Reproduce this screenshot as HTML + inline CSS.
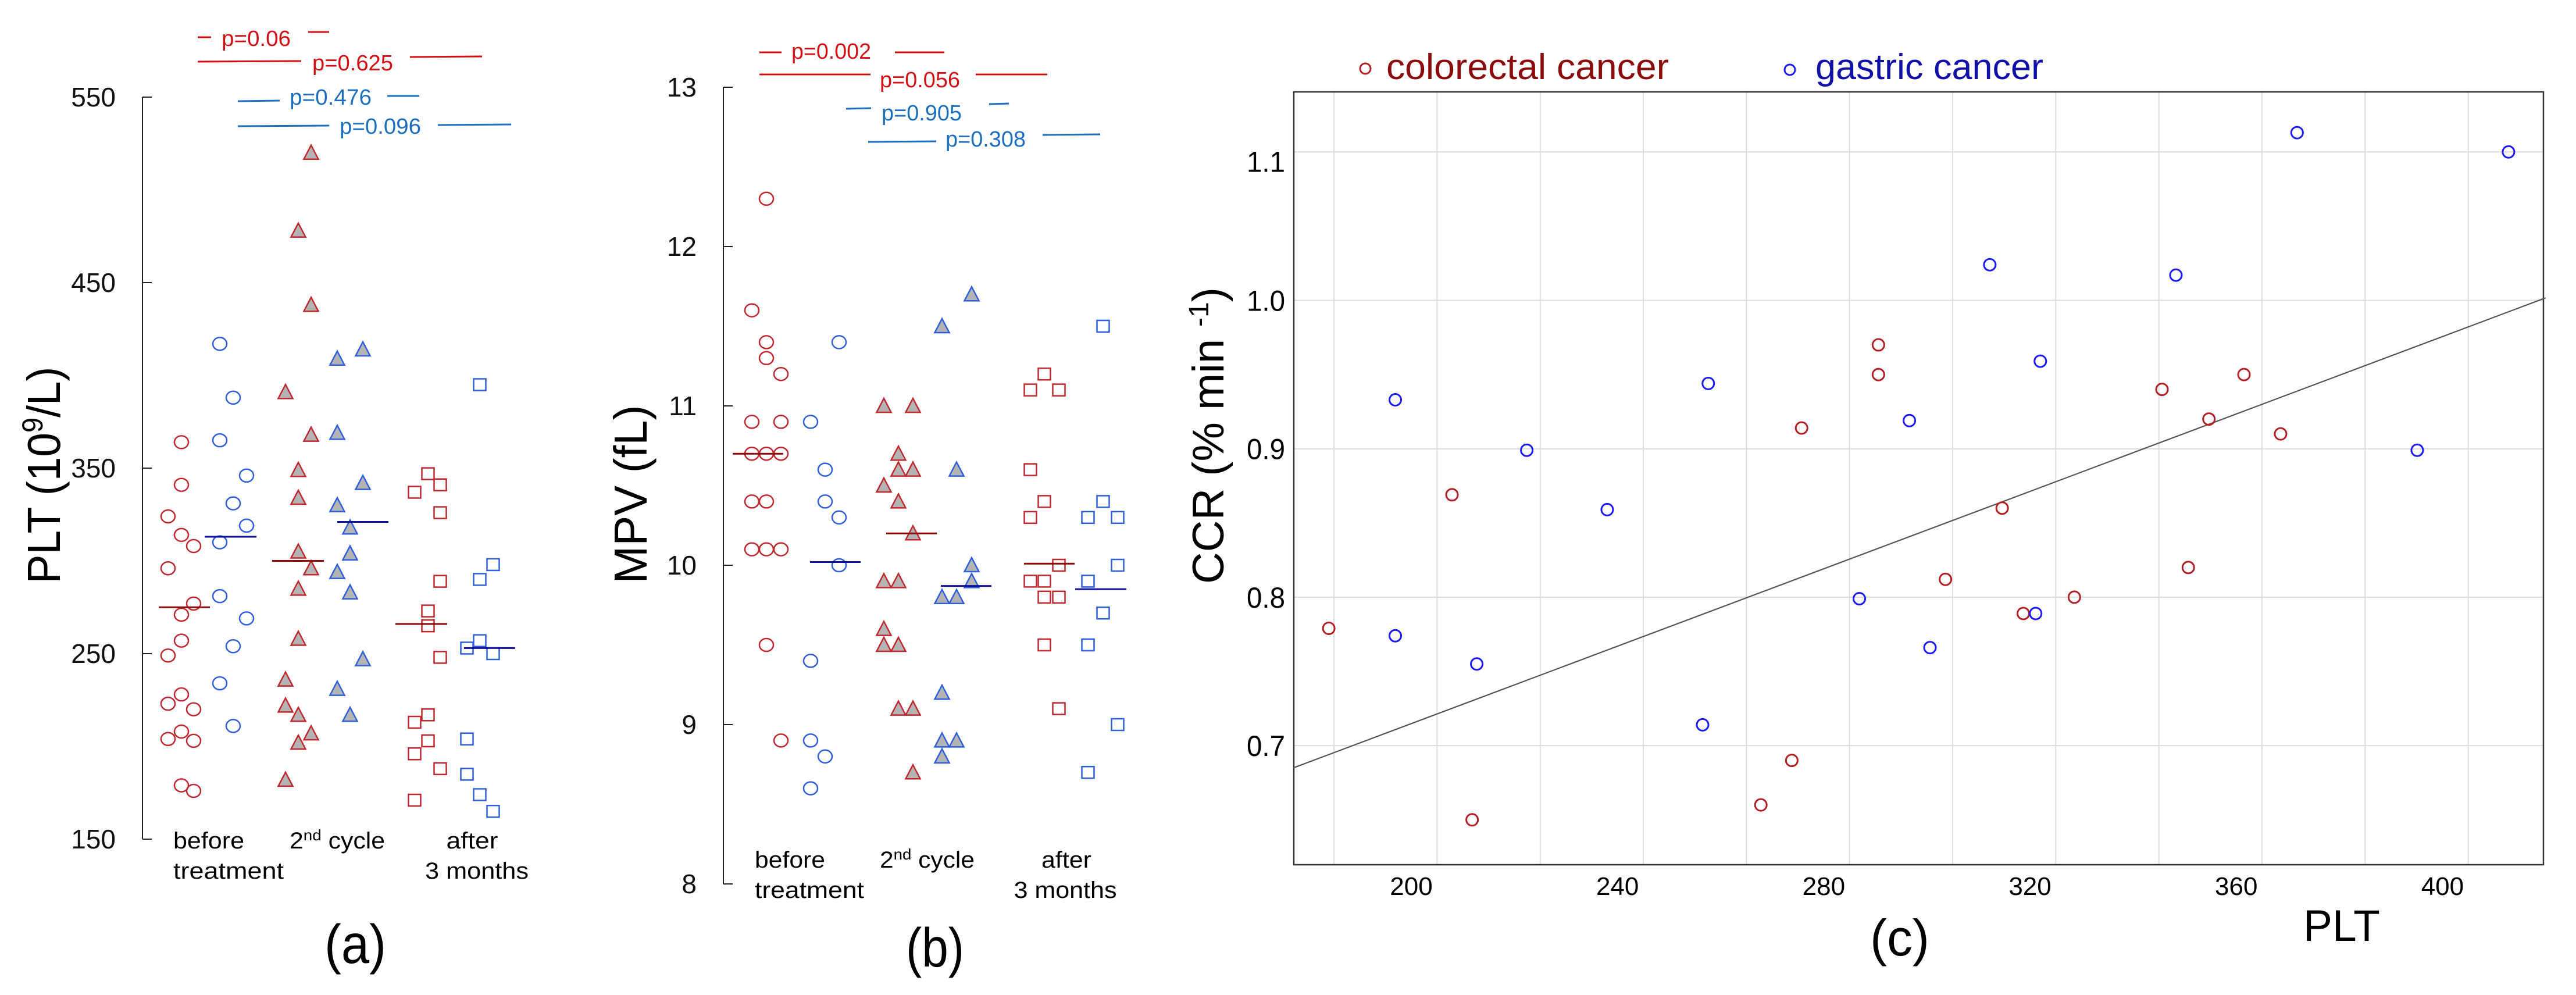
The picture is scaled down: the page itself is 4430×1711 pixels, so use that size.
<!DOCTYPE html>
<html><head><meta charset="utf-8"><style>
html,body{margin:0;padding:0;background:#fff;}
svg{display:block;font-family:"Liberation Sans",Arial,sans-serif;}
</style></head><body>
<svg id="fig" width="4430" height="1711" viewBox="0 0 4430 1711" xmlns="http://www.w3.org/2000/svg">
<g id="pa"></g>
<g id="pb"></g>
<g id="pc"></g>
</svg>
<script>
// ---------- Panel (a) PLT data ----------
const aTicks = [150, 250, 350, 450, 550];
const aRedCircle = [[324,296,249,223,204],[364,341,314,271,257,228,208,179],[308,277,220,203,176]];
const aBlueCircle = [[417,365,310,281,234],[388,331,254,211],[346,319,269]];
const aRedTri = [[391,236,222,182],[478,349,334,305,285,258,217,202],[520,438,368,296,207]];
const aBlueTri = [[409,369,330,294,231],[318,304,283,217],[414,342,247]];
const aRedSq = [[337,213,196,171],[347,273,265,217,203],[341,326,289,248,188]];
const aBlueSq = [[253,204,185],[395,290,257,174],[298,250,165]];
const aMedians = [275, 313, 300, 321, 266, 253];
// ---------- Panel (b) MPV data ----------
const bTicks = [8, 9, 10, 11, 12, 13];
const bRedCircle = [[11.6,10.9,10.7,10.4,10.1],[12.3,11.4,11.3,10.7,10.4,10.1,9.5],[11.2,10.9,10.7,10.1,8.9]];
const bBlueCircle = [[10.9,9.4,8.9,8.6],[10.6,10.4,8.8],[11.4,10.3,10.0]];
const bRedTri = [[11.0,10.5,9.9,9.6,9.5],[10.7,10.6,10.4,9.9,9.5,9.1],[11.0,10.6,10.2,9.1,8.7]];
const bBlueTri = [[11.5,9.8,9.2,8.9,8.8],[10.6,9.8,8.9],[11.7,10.0,9.9]];
const bRedSq = [[11.1,10.6,10.3,9.9],[11.2,10.4,9.9,9.8,9.5],[11.1,10.0,9.8,9.1]];
const bBlueSq = [[10.3,9.9,9.5,8.7],[11.5,10.4,9.7],[10.3,10.0,9.0]];
const bMedians = [10.7, 10.02, 10.2, 9.87, 10.01, 9.85];
// ---------- Panel (c) CCR vs PLT ----------
const cXTicks = [200, 240, 280, 320, 360, 400];
const cYTicks = [0.7, 0.8, 0.9, 1.0, 1.1];
const cGridX = [185, 205, 225, 245, 265, 285, 305, 325, 345, 365, 385, 405];
const cRedX = [184,207.9,211.8,267.8,273.8,275.7,290.6,290.6,303.6,314.6,318.7,328.6,345.6,350.7,354.7,361.5,368.6];
const cRedY = [0.779,0.869,0.650,0.660,0.690,0.914,0.970,0.950,0.812,0.860,0.789,0.800,0.940,0.820,0.920,0.950,0.910];
const cBlueX = [196.9,196.9,212.7,222.4,238.0,256.5,257.6,286.9,296.6,300.6,312.2,321.1,322.0,348.3,371.8,395.1,412.8];
const cBlueY = [0.933,0.774,0.755,0.899,0.859,0.714,0.944,0.799,0.919,0.766,1.024,0.789,0.959,1.017,1.113,0.899,1.100];
const cFit = [0.454, 0.001304];

const NS = "http://www.w3.org/2000/svg";
function mk(parent, tag, attrs, text) {
  const e = document.createElementNS(NS, tag);
  for (const k in attrs) e.setAttribute(k, attrs[k]);
  if (text !== undefined) e.textContent = text;
  parent.appendChild(e);
  return e;
}
const RED = "#c0282e", BLUE = "#2f5fdc", GREY = "#b4b4b4";

function drawMarker(g, shape, x, y, col, name) {
  let el;
  if (shape === "circle") {
    el = mk(g, "ellipse", {cx:x, cy:y, rx:12, ry:11, fill:"none", stroke:col, "stroke-width":2.5});
  } else if (shape === "tri") {
    el = mk(g, "polygon", {points:`${x},${y-13} ${x-12.5},${y+11} ${x+12.5},${y+11}`, fill:GREY, stroke:col, "stroke-width":2.5});
  } else {
    el = mk(g, "rect", {x:x-10.5, y:y-10, width:21, height:20, fill:"none", stroke:col, "stroke-width":2.5});
  }
  
  
}

function drawStrip(g, cfg) {
  const ys = cfg.y;
  // axis
  let ax = mk(g, "line", {x1:cfg.axX, y1:ys(cfg.ticks[cfg.ticks.length-1]), x2:cfg.axX, y2:ys(cfg.ticks[0]), stroke:"#222", "stroke-width":2});
  
  
  cfg.ticks.forEach(t => {
    const tk = mk(g, "line", {x1:cfg.axX, y1:ys(t), x2:cfg.axX+16, y2:ys(t), stroke:"#222", "stroke-width":2});
    
    
    const lb = mk(g, "text", {x:cfg.labX, y:ys(t)+16, "text-anchor":"end", "font-size":46, fill:"#111"}, String(t));
    
    
  });
  const series = [
    [cfg.d[0], "circle", RED, 0, "red-circle"], [cfg.d[1], "circle", BLUE, 1, "blue-circle"],
    [cfg.d[2], "tri", RED, 2, "red-triangle"], [cfg.d[3], "tri", BLUE, 3, "blue-triangle"],
    [cfg.d[4], "sq", RED, 4, "red-square"], [cfg.d[5], "sq", BLUE, 5, "blue-square"]];
  series.forEach(([data, shape, col, gi, nm]) => {
    data.forEach((colVals, ci) => {
      colVals.forEach(v => drawMarker(g, shape, cfg.colX[gi][ci], ys(v), col, nm + "-point"));
    });
  });
  cfg.medians.forEach((m, i) => {
    const l = mk(g, "line", {x1:cfg.medX[i][0], y1:ys(m), x2:cfg.medX[i][1], y2:ys(m), stroke: i%2 ? "#10109a" : "#8b0a0a", "stroke-width":3});
    
    
  });
}

// ---- Panel a
const ga = document.getElementById("pa");
drawStrip(ga, {
  y: v => 1443 - (v - 150) * 3.19, axX: 245, labX: 199, ticks: aTicks,
  d: [aRedCircle, aBlueCircle, aRedTri, aBlueTri, aRedSq, aBlueSq],
  colX: [[289,312,333],[378,401,424],[491,513,535],[580,602,624],[713,736,757],[803,825,848]],
  medians: aMedians,
  medX: [[273,361],[352,441],[468,557],[580,668],[680,769],[798,886]]
});
// ---- Panel b
const gb = document.getElementById("pb");
drawStrip(gb, {
  y: v => 1520 - (v - 8) * 274, axX: 1244, labX: 1198, ticks: bTicks,
  d: [bRedCircle, bBlueCircle, bRedTri, bBlueTri, bRedSq, bBlueSq],
  colX: [[1293,1318,1343],[1394,1419,1443],[1520,1545,1570],[1620,1645,1671],[1772,1796,1821],[1871,1897,1922]],
  medians: bMedians,
  medX: [[1260,1347],[1393,1480],[1524,1611],[1618,1705],[1761,1848],[1849,1937]]
});

// p-value annotations
function pAnn(g, col, l1, t, l2) {
  let a = mk(g, "line", {x1:l1[0], y1:l1[2], x2:l1[1], y2:l1[3], stroke:col, "stroke-width":3});
  
  
  let b = mk(g, "line", {x1:l2[0], y1:l2[2], x2:l2[1], y2:l2[3], stroke:col, "stroke-width":3});
  
  
  let tx = mk(g, "text", {x:t[0], y:t[2], "font-size":38, fill:col, textLength:t[1]-t[0], lengthAdjust:"spacingAndGlyphs"}, t[3]);
  
  
}
const PR = "#d40f14", PB = "#1c6fbf";
pAnn(ga, PR, [340,363,64,64], [381,500,79,"p=0.06"], [530,566,55,55]);
pAnn(ga, PR, [340,518,106,105], [537,676,121,"p=0.625"], [705,829,98,97]);
pAnn(ga, PB, [409,481,174,173], [498,639,180,"p=0.476"], [666,721,165,165]);
pAnn(ga, PB, [409,566,217,216], [584,724,230,"p=0.096"], [753,879,215,214]);
pAnn(gb, PR, [1306,1344,90,90], [1361,1498,101,"p=0.002"], [1539,1624,90,90]);
pAnn(gb, PR, [1306,1497,128,128], [1513,1651,150,"p=0.056"], [1678,1801,128,128]);
pAnn(gb, PB, [1455,1498,187,186], [1516,1654,207,"p=0.905"], [1701,1735,179,178]);
pAnn(gb, PB, [1493,1610,244,243], [1626,1764,252,"p=0.308"], [1793,1892,232,231]);

function txt(g, attrs, content, name) {
  const t = mk(g, "text", attrs);
  t.innerHTML = content;
  
  
  return t;
}
// category labels a
txt(ga, {x:298, y:1459, "font-size":40, textLength:122, lengthAdjust:"spacingAndGlyphs"}, "before", "category-label-before");
txt(ga, {x:298, y:1511, "font-size":40, textLength:190, lengthAdjust:"spacingAndGlyphs"}, "treatment", "category-label-before");
txt(ga, {x:498, y:1459, "font-size":40, textLength:164, lengthAdjust:"spacingAndGlyphs"}, '2<tspan font-size="26" dy="-14">nd</tspan><tspan dy="14"> cycle</tspan>', "category-label-2nd-cycle");
txt(ga, {x:812, y:1459, "font-size":40, "text-anchor":"middle", textLength:89, lengthAdjust:"spacingAndGlyphs"}, "after", "category-label-after");
txt(ga, {x:820, y:1511, "font-size":40, "text-anchor":"middle", textLength:178, lengthAdjust:"spacingAndGlyphs"}, "3 months", "category-label-after");
txt(ga, {x:103, y:817, "font-size":80, "text-anchor":"middle", transform:"rotate(-90 103 817)", textLength:373, lengthAdjust:"spacingAndGlyphs"}, 'PLT (10<tspan font-size="50" dy="-30">9</tspan><tspan dy="30">/L)</tspan>', "y-axis-title");
txt(ga, {x:611, y:1656, "font-size":95, "text-anchor":"middle", textLength:106, lengthAdjust:"spacingAndGlyphs"}, "(a)", "panel-label-a");
// category labels b
txt(gb, {x:1298, y:1492, "font-size":40, textLength:121, lengthAdjust:"spacingAndGlyphs"}, "before", "category-label-before");
txt(gb, {x:1298, y:1544, "font-size":40, textLength:188, lengthAdjust:"spacingAndGlyphs"}, "treatment", "category-label-before");
txt(gb, {x:1513, y:1492, "font-size":40, textLength:163, lengthAdjust:"spacingAndGlyphs"}, '2<tspan font-size="26" dy="-14">nd</tspan><tspan dy="14"> cycle</tspan>', "category-label-2nd-cycle");
txt(gb, {x:1834, y:1492, "font-size":40, "text-anchor":"middle", textLength:86, lengthAdjust:"spacingAndGlyphs"}, "after", "category-label-after");
txt(gb, {x:1832, y:1544, "font-size":40, "text-anchor":"middle", textLength:177, lengthAdjust:"spacingAndGlyphs"}, "3 months", "category-label-after");
txt(gb, {x:1112, y:850, "font-size":80, "text-anchor":"middle", transform:"rotate(-90 1112 850)", textLength:307, lengthAdjust:"spacingAndGlyphs"}, "MPV  (fL)", "y-axis-title");
txt(gb, {x:1608, y:1662, "font-size":95, "text-anchor":"middle", textLength:100, lengthAdjust:"spacingAndGlyphs"}, "(b)", "panel-label-b");

// ---- Panel c
const gc = document.getElementById("pc");
const cx = v => 2427 + (v - 200) * 8.867;
const cy = v => 516.5 + (1 - v) * 2552;
const L = 2225, R = 4374, T = 158, B = 1487;
cGridX.forEach(v => {
  const l = mk(gc, "line", {x1:cx(v), y1:T, x2:cx(v), y2:B, stroke:"#dcdcdc", "stroke-width":2});
  
  
});
cYTicks.forEach(v => {
  const l = mk(gc, "line", {x1:L, y1:cy(v), x2:R, y2:cy(v), stroke:"#dcdcdc", "stroke-width":2});
  
  
  const t = mk(gc, "text", {x:2210, y:cy(v) + 18 + (v > 1.05 ? 16 : 0), "text-anchor":"end", "font-size":50, textLength:66, lengthAdjust:"spacingAndGlyphs"}, v.toFixed(1));
  
  
});
cXTicks.forEach(v => {
  const t = mk(gc, "text", {x:cx(v), y:1539, "text-anchor":"middle", "font-size":44}, String(v));
  
  
});
const box = mk(gc, "rect", {x:L, y:T, width:R-L, height:B-T, fill:"none", stroke:"#333", "stroke-width":2.5});


const x0 = 177.2, x1 = 420;
const fit = mk(gc, "line", {x1:cx(x0), y1:cy(cFit[0] + cFit[1]*x0), x2:cx(x1), y2:cy(cFit[0] + cFit[1]*x1), stroke:"#555", "stroke-width":2.2});


cRedX.forEach((v, i) => {
  const c = mk(gc, "circle", {cx:cx(v), cy:cy(cRedY[i]), r:10, fill:"none", stroke:"#b51f24", "stroke-width":3});
  
  
});
cBlueX.forEach((v, i) => {
  const c = mk(gc, "circle", {cx:cx(v), cy:cy(cBlueY[i]), r:10, fill:"none", stroke:"#1a1aff", "stroke-width":3});
  
  
});
// legend
const lm1 = mk(gc, "circle", {cx:2348, cy:118, r:9, fill:"none", stroke:"#b51f24", "stroke-width":3});


txt(gc, {x:2384, y:136, "font-size":62, fill:"#8b0a0a", textLength:486, lengthAdjust:"spacingAndGlyphs"}, "colorectal cancer", "legend-entry-colorectal");
const lm2 = mk(gc, "circle", {cx:3078, cy:120, r:9, fill:"none", stroke:"#1a1aff", "stroke-width":3});


txt(gc, {x:3122, y:136, "font-size":62, fill:"#1010a8", textLength:392, lengthAdjust:"spacingAndGlyphs"}, "gastric cancer", "legend-entry-gastric");
txt(gc, {x:2104, y:749, "font-size":76, "text-anchor":"middle", transform:"rotate(-90 2104 749)", textLength:510, lengthAdjust:"spacingAndGlyphs"}, 'CCR  (% min <tspan font-size="48" dy="-26">-1</tspan><tspan dy="26">)</tspan>', "y-axis-title");
txt(gc, {x:4027, y:1618, "font-size":76, "text-anchor":"middle", textLength:132, lengthAdjust:"spacingAndGlyphs"}, "PLT", "x-axis-title");
txt(gc, {x:3267, y:1643, "font-size":88, "text-anchor":"middle", textLength:102, lengthAdjust:"spacingAndGlyphs"}, "(c)", "panel-label-c");
</script>
</body></html>
